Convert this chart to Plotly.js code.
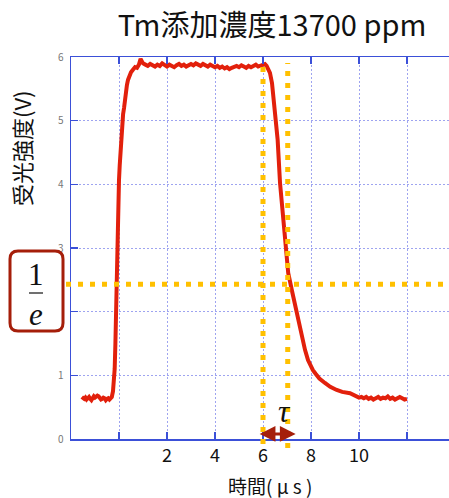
<!DOCTYPE html>
<html>
<head>
<meta charset="utf-8">
<script src="https://cdn.plot.ly/plotly-3.0.1.min.js"></script>
<style>html,body{margin:0;padding:0;background:#fff;}#chart{width:449px;height:498px;}</style>
</head>
<body>
<div id="chart"></div>
<script>
// ---- data ----
const timeUs = [
  -1.55,-1.5,-1.45,-1.4,-1.35,-1.3,-1.25,-1.2,-1.15,-1.1,-1.05,-1.0,-0.95,-0.9,-0.85,-0.8,-0.75,-0.7,-0.65,-0.6,-0.55,-0.5,-0.45,-0.4,-0.35,-0.3,
  -0.25,-0.21,-0.18,-0.15,-0.12,-0.10,-0.07,-0.04,0.0,0.03,0.06,0.09,0.125,0.17,0.21,0.25,0.29,0.33,0.375,0.44,0.5,0.58,0.67,0.75,0.83,0.9,
  1.0,1.1,1.2,1.3,1.4,1.5,1.6,1.7,1.8,1.9,2.0,2.1,2.2,2.3,2.4,2.5,2.6,2.7,2.8,2.9,3.0,3.1,3.2,3.3,3.4,3.5,3.6,3.7,3.8,3.9,
  4.0,4.1,4.2,4.3,4.4,4.5,4.6,4.7,4.8,4.9,5.0,5.1,5.2,5.3,5.4,5.5,5.6,5.7,5.8,5.9,
  6.0,6.08,6.15,6.21,6.29,6.375,6.46,6.54,6.61,6.71,6.85,6.95,7.05,7.2,7.375,7.5,7.61,7.75,7.875,8.0,8.08,8.2,8.35,8.58,8.8,9.07,9.3,9.625,
  9.8,9.9,10.0,10.1,10.2,10.3,10.4,10.5,10.6,10.7,10.8,10.9,11.0,11.1,11.2,11.3,11.4,11.5,11.6,11.7,11.8,11.9,12.0
];
const signalV = [
  0.66,0.64,0.63,0.65,0.62,0.64,0.66,0.63,0.61,0.64,0.67,0.65,0.66,0.68,0.67,0.64,0.62,0.63,0.65,0.64,0.61,0.63,0.64,0.62,0.64,0.66,
  0.75,0.93,1.1,1.5,2.1,2.5,3.2,3.6,4.07,4.3,4.54,4.75,4.96,5.1,5.2,5.35,5.48,5.56,5.64,5.71,5.76,5.8,5.84,5.83,5.88,5.97,
  5.90,5.88,5.86,5.89,5.87,5.85,5.88,5.86,5.90,5.87,5.85,5.88,5.86,5.84,5.87,5.89,5.86,5.88,5.85,5.87,5.89,5.87,5.90,5.88,5.86,5.89,5.87,5.85,5.88,5.86,
  5.84,5.86,5.83,5.85,5.82,5.84,5.81,5.83,5.85,5.86,5.84,5.87,5.85,5.83,5.86,5.84,5.86,5.88,5.85,5.87,
  5.88,5.89,5.86,5.82,5.75,5.59,5.2,4.85,4.70,4.02,3.39,2.97,2.61,2.34,2.03,1.8,1.60,1.40,1.24,1.12,1.08,1.02,0.95,0.88,0.82,0.77,0.74,0.72,
  0.69,0.67,0.65,0.66,0.64,0.66,0.63,0.65,0.62,0.64,0.66,0.63,0.65,0.64,0.67,0.63,0.65,0.62,0.64,0.66,0.64,0.62,0.63
];
const xTickVals = [0,2,4,6,8,10,12];
const xTickText = ['', '2', '4', '6', '8', '10', ''];
const yTickVals = [0,1,2,3,4,5,6];
const yTickText = ['0','1','2','3','4','5','6'];
const tauStart = 6.0;     // µs, vertical guide 1
const tauEnd = 7.03;      // µs, vertical guide 2
const levelOneOverE = 2.43; // V, horizontal guide
const titleText = 'Tm添加濃度13700 ppm';
const xTitle = '時間( μ s )';
const yTitle = '受光強度(V)';

// ---- layout helpers ----
const W = 449, H = 498;
const M = {l: 71, r: 0, t: 57, b: 59};
const xRange = [-2, 13.75];
const yRange = [0, 6];
const PW = W - M.l - M.r, PH = H - M.t - M.b;
const px2paperX = p => (p - M.l) / PW;
const px2paperY = p => (H - M.b - p) / PH;
const xDom = v => (v - xRange[0]) / (xRange[1] - xRange[0]);
const yDom = v => (v - yRange[0]) / (yRange[1] - yRange[0]);

const axisBlue = '#3b50d8';
const gridBlue = '#9ea4f0';
const orange = '#ffc000';
const darkRed = '#a51e0a';
const jp = '"Noto Sans CJK JP", "Noto Sans", sans-serif';
const serif = '"Liberation Serif", "DejaVu Serif", serif';

// rounded box for 1/e
const bx0 = px2paperX(10), bx1 = px2paperX(63), by0 = px2paperY(331), by1 = px2paperY(251);
const rx = 8 / PW, ry = 8 / PH;
const boxPath = `M ${bx0+rx},${by0} L ${bx1-rx},${by0} Q ${bx1},${by0} ${bx1},${by0+ry} L ${bx1},${by1-ry} Q ${bx1},${by1} ${bx1-rx},${by1} L ${bx0+rx},${by1} Q ${bx0},${by1} ${bx0},${by1-ry} L ${bx0},${by0+ry} Q ${bx0},${by0} ${bx0+rx},${by0} Z`;

const traces = [{
  type: 'scatter', mode: 'lines',
  x: timeUs, y: signalV,
  line: {color: '#e2200c', width: 4},
  hoverinfo: 'skip'
}];

const dotDash = '5px,7px';
const shapes = [
  {type: 'line', xref: 'paper', yref: 'y domain', x0: px2paperX(66), x1: 1, y0: yDom(levelOneOverE), y1: yDom(levelOneOverE),
   line: {color: orange, width: 5, dash: dotDash}, layer: 'above'},
  {type: 'line', xref: 'x domain', yref: 'paper', x0: xDom(tauStart), x1: xDom(tauStart), y0: px2paperY(444), y1: px2paperY(60),
   line: {color: orange, width: 5, dash: dotDash}, layer: 'above'},
  {type: 'line', xref: 'x domain', yref: 'paper', x0: xDom(tauEnd), x1: xDom(tauEnd), y0: px2paperY(448), y1: px2paperY(63),
   line: {color: orange, width: 5, dash: dotDash}, layer: 'above'},
  {type: 'path', xref: 'paper', yref: 'paper', path: boxPath, fillcolor: '#ffffff',
   line: {color: darkRed, width: 3}, layer: 'above'},
  {type: 'line', xref: 'paper', yref: 'paper', x0: px2paperX(29), x1: px2paperX(43), y0: px2paperY(293), y1: px2paperY(293),
   line: {color: '#222', width: 1.3}, layer: 'above'}
];

const annotations = [
  {xref: 'paper', yref: 'paper', x: px2paperX(36), y: px2paperY(274), text: '1', showarrow: false,
   xanchor: 'center', yanchor: 'middle', font: {family: serif, size: 31, color: '#111'}},
  {xref: 'paper', yref: 'paper', x: px2paperX(36), y: px2paperY(314), text: '<i>e</i>', showarrow: false,
   xanchor: 'center', yanchor: 'middle', font: {family: serif, size: 31, color: '#111'}},
  {xref: 'paper', yref: 'paper', x: px2paperX(284), y: px2paperY(411), text: '<i>τ</i>', showarrow: false,
   xanchor: 'center', yanchor: 'middle', font: {family: serif, size: 31, color: '#111'}},
  {xref: 'x', yref: 'y', x: tauEnd + 0.33, y: 0.08, axref: 'x', ayref: 'y', ax: tauStart - 0.2, ay: 0.08,
   text: '', showarrow: true, arrowside: 'end+start', arrowhead: 2, arrowsize: 1.05, arrowwidth: 3, arrowcolor: darkRed,
   standoff: 0, startstandoff: 0},
  {xref: 'paper', yref: 'paper', x: px2paperX(270), y: px2paperY(485), text: xTitle, showarrow: false,
   xanchor: 'center', yanchor: 'middle', font: {family: jp, size: 19, color: '#111'}},
  {xref: 'paper', yref: 'paper', x: px2paperX(21), y: px2paperY(148), text: yTitle, showarrow: false, textangle: -90,
   xanchor: 'center', yanchor: 'middle', font: {family: jp, size: 22, color: '#111'}}
];

const layout = {
  width: W, height: H,
  margin: M,
  paper_bgcolor: '#ffffff', plot_bgcolor: '#ffffff',
  showlegend: false,
  title: {text: titleText, x: px2paperX(272), xref: 'paper', xanchor: 'center',
          y: 1 - 26 / H, yref: 'container', yanchor: 'middle',
          font: {family: jp, size: 29, color: '#111'}},
  xaxis: {range: xRange, tickmode: 'array', tickvals: xTickVals, ticktext: xTickText,
          ticks: 'inside', ticklen: 7, tickwidth: 1.5, tickcolor: axisBlue,
          showline: true, linecolor: axisBlue, linewidth: 1.5, mirror: 'ticks',
          showgrid: true, gridcolor: gridBlue, gridwidth: 1, griddash: '2px,2px', zeroline: false,
          tickfont: {family: jp, size: 18, color: '#111'}, fixedrange: true},
  yaxis: {range: yRange, tickmode: 'array', tickvals: yTickVals, ticktext: yTickText,
          ticks: 'inside', ticklen: 7, tickwidth: 1.5, tickcolor: axisBlue,
          showline: true, linecolor: axisBlue, linewidth: 1.5, mirror: false,
          showgrid: true, gridcolor: gridBlue, gridwidth: 1, griddash: '2px,2px', zeroline: false,
          tickfont: {family: jp, size: 10, color: '#777'}, ticklabelstandoff: 4, fixedrange: true},
  shapes: shapes,
  annotations: annotations
};

Plotly.newPlot('chart', traces, layout, {displayModeBar: false, staticPlot: true});
</script>
</body>
</html>
